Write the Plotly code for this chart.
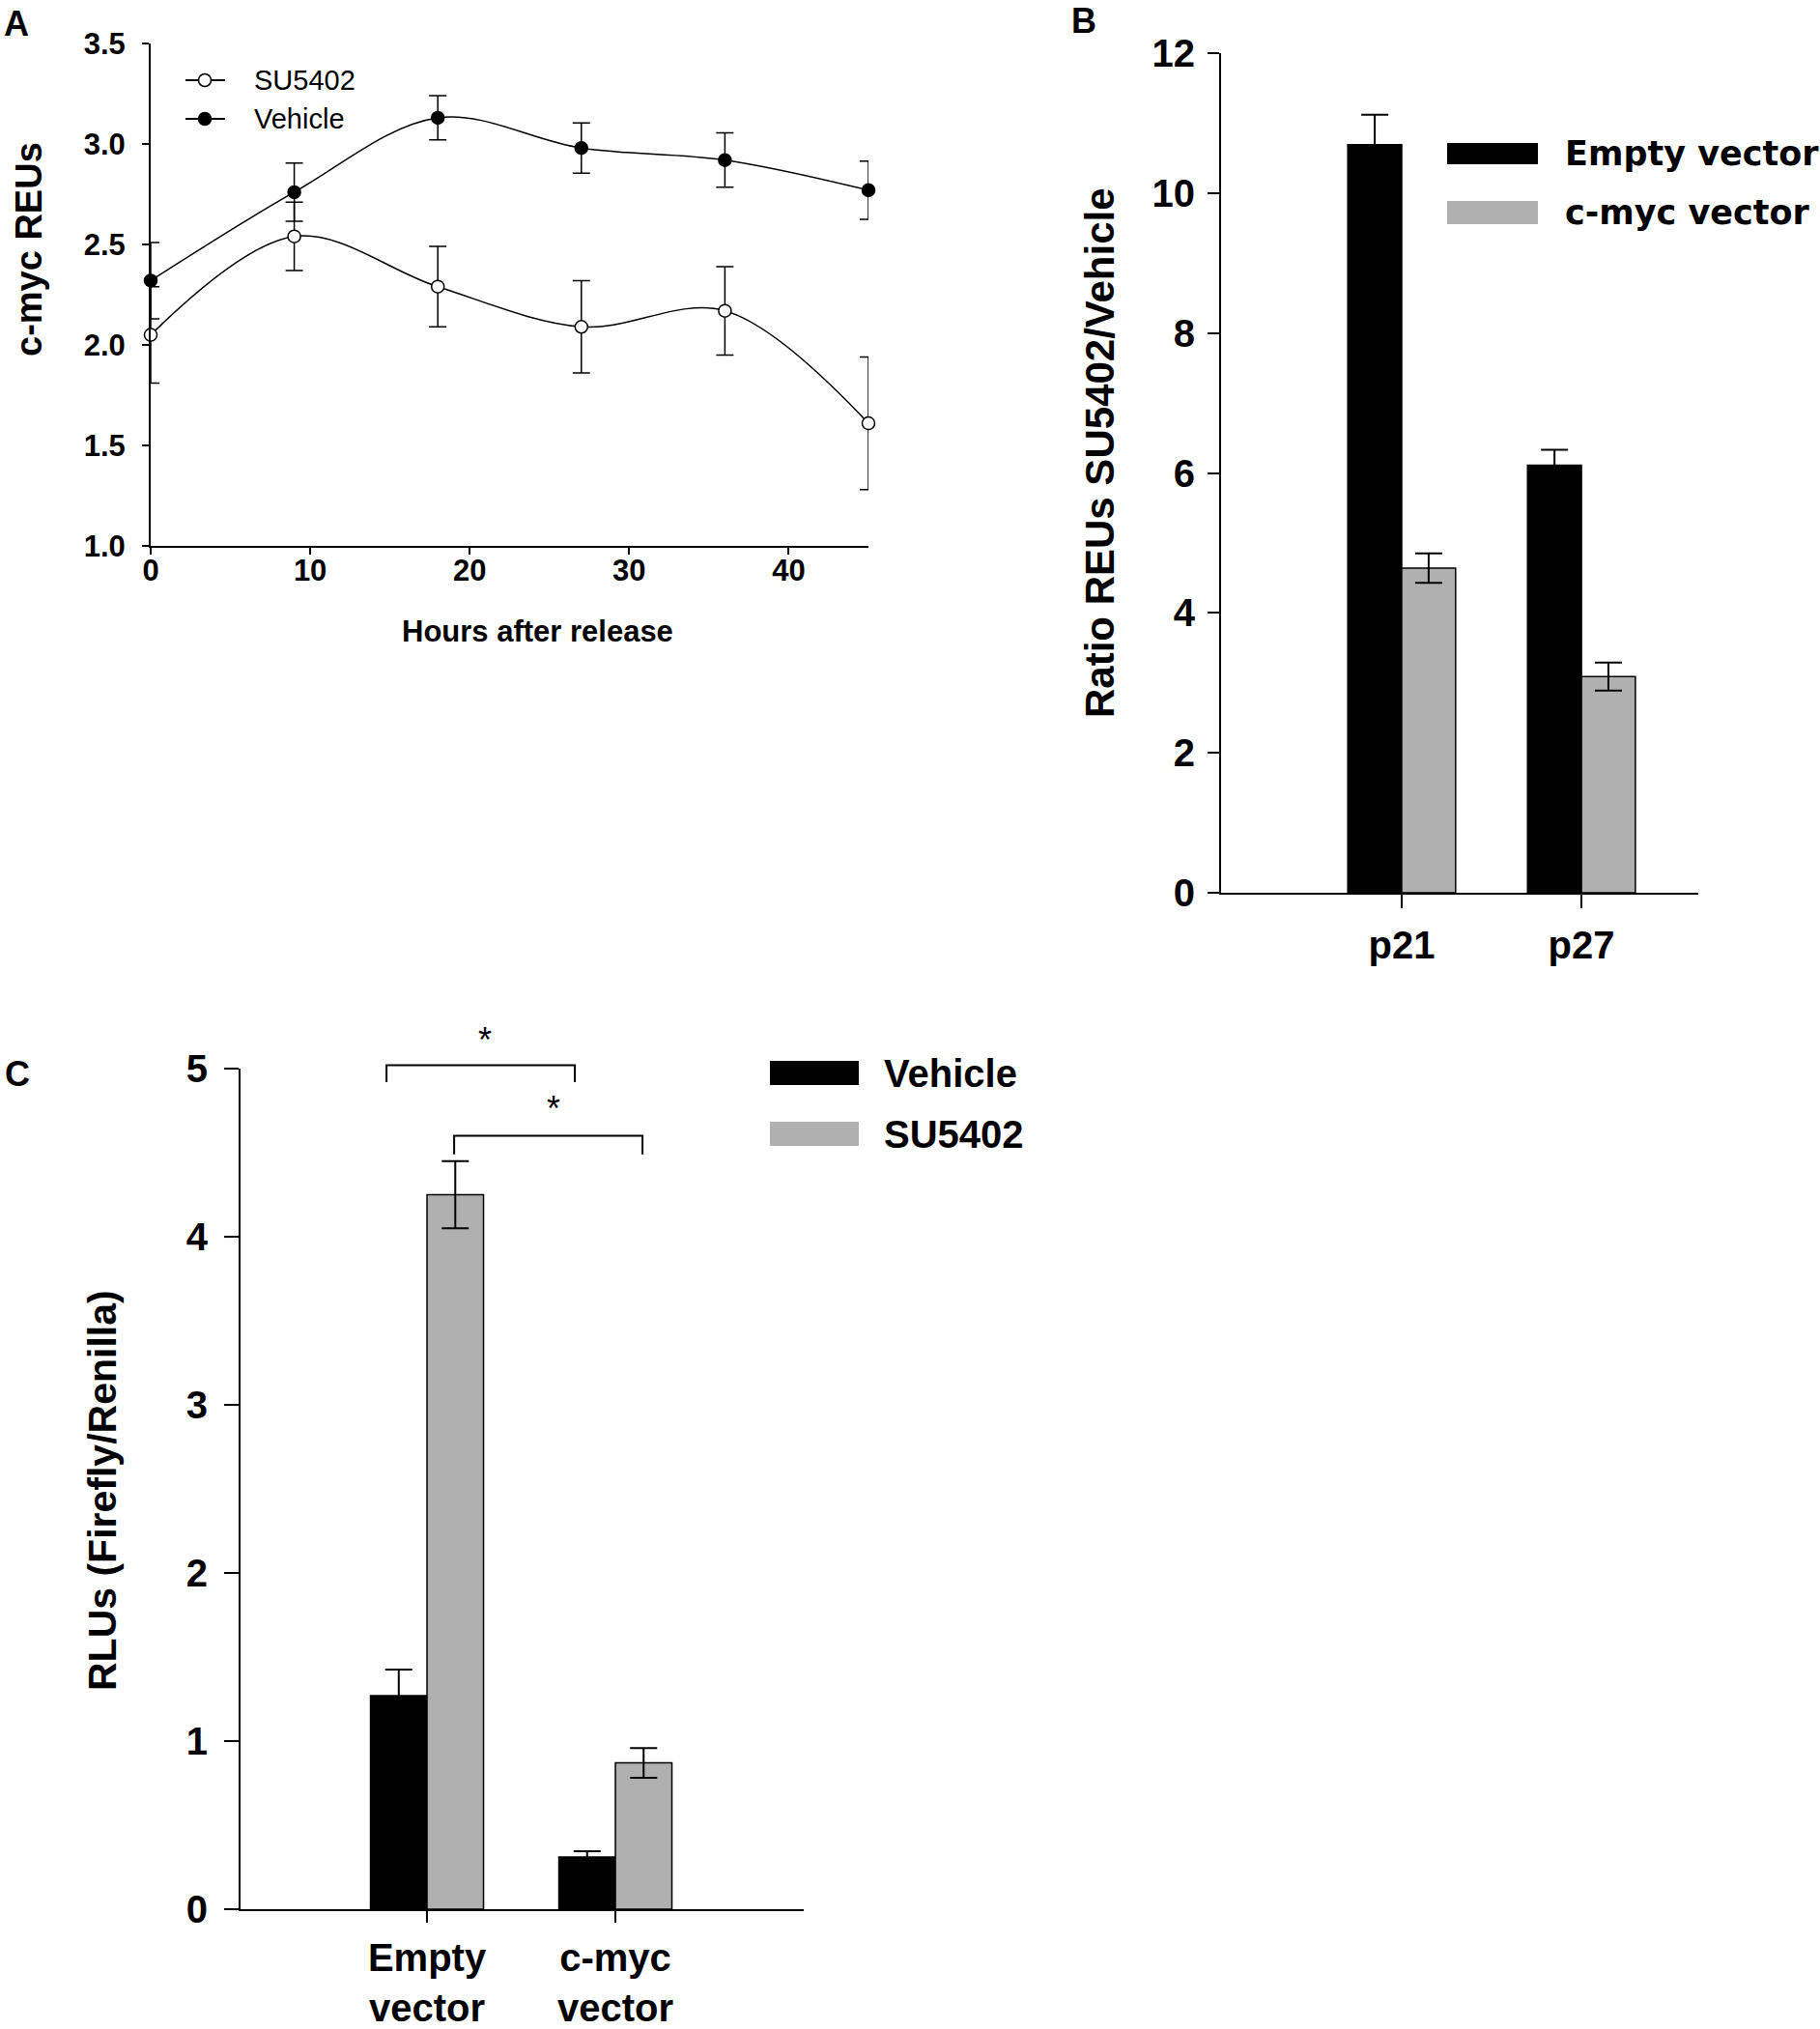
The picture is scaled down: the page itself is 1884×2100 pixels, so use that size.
import plotly.graph_objects as go

# ---------------- data ----------------
hours = [0, 9, 18, 27, 36, 45]
su5402_reu = [2.05, 2.54, 2.29, 2.09, 2.17, 1.61]
su5402_err = [0.24, 0.17, 0.20, 0.23, 0.22, 0.33]
vehicle_reu = [2.32, 2.76, 3.13, 2.98, 2.92, 2.77]
vehicle_err = [0.19, 0.145, 0.11, 0.125, 0.135, 0.145]
a_xticks = [0, 10, 20, 30, 40]
a_yticks = [1.0, 1.5, 2.0, 2.5, 3.0, 3.5]

genes = ["p21", "p27"]
ratio_empty = [10.69, 6.11]
ratio_empty_err = [0.43, 0.22]
ratio_cmyc = [4.64, 3.09]
ratio_cmyc_err = [0.21, 0.20]
b_yticks = [0, 2, 4, 6, 8, 10, 12]

constructs = ["Empty vector", "c-myc vector"]
construct_labels = ["Empty<br>vector", "c-myc<br>vector"]
rlu_vehicle = [1.27, 0.31]
rlu_vehicle_err = [0.155, 0.035]
rlu_su5402 = [4.25, 0.87]
rlu_su5402_err = [0.20, 0.088]
c_yticks = [0, 1, 2, 3, 4, 5]

# ---------------- layout helpers ----------------
W, H = 1884, 2100
FONT = "Liberation Sans, Arial, sans-serif"
GRAY = "#b0b0b0"


def fx(px):
    return px / W


def fy(py):
    return 1 - py / H


A_XR = [0, 45]
A_YR = [1.0, 3.5]
B_XR = [-1.005, 1.65]
B_YR = [0, 12]
C_XR = [-0.99, 2.0]
C_YR = [0, 5]
C_XPX = [249, 832]
C_YPX = [1976, 1106]

fig = go.Figure()

# ---------------- Panel A ----------------
fig.add_trace(go.Scatter(
    x=hours, y=su5402_reu, name="SU5402", mode="lines+markers",
    line=dict(color="black", width=1.5, shape="spline", smoothing=1),
    marker=dict(symbol="circle", size=13, color="white", line=dict(color="black", width=1.5)),
    error_y=dict(type="data", array=su5402_err, color="black", thickness=1.5, width=9),
    cliponaxis=False, showlegend=False, xaxis="x", yaxis="y"))
fig.add_trace(go.Scatter(
    x=hours, y=vehicle_reu, name="Vehicle", mode="lines+markers",
    line=dict(color="black", width=1.5, shape="spline", smoothing=1),
    marker=dict(symbol="circle", size=13, color="black", line=dict(color="black", width=1.5)),
    error_y=dict(type="data", array=vehicle_err, color="black", thickness=1.5, width=9),
    cliponaxis=False, showlegend=False, xaxis="x", yaxis="y"))

# ---------------- Panel B ----------------
fig.add_trace(go.Bar(
    x=genes, y=ratio_empty, name="Empty vector", marker=dict(color="black", line=dict(color="black", width=1.5)),
    error_y=dict(type="data", array=ratio_empty_err, color="black", thickness=2, width=14),
    showlegend=False, xaxis="x2", yaxis="y2"))
fig.add_trace(go.Bar(
    x=genes, y=ratio_cmyc, name="c-myc vector", marker=dict(color=GRAY, line=dict(color="black", width=1.5)),
    error_y=dict(type="data", array=ratio_cmyc_err, color="black", thickness=2, width=14),
    showlegend=False, xaxis="x2", yaxis="y2"))

# ---------------- Panel C ----------------
fig.add_trace(go.Bar(
    x=constructs, y=rlu_vehicle, name="Vehicle", marker=dict(color="black", line=dict(color="black", width=1.5)),
    error_y=dict(type="data", array=rlu_vehicle_err, color="black", thickness=2, width=14),
    showlegend=False, xaxis="x3", yaxis="y3"))
fig.add_trace(go.Bar(
    x=constructs, y=rlu_su5402, name="SU5402", marker=dict(color=GRAY, line=dict(color="black", width=1.5)),
    error_y=dict(type="data", array=rlu_su5402_err, color="black", thickness=2, width=14),
    showlegend=False, xaxis="x3", yaxis="y3"))

axis_common = dict(showline=True, linecolor="black", linewidth=2, ticks="outside",
                   tickcolor="black", tickwidth=2, showgrid=False, zeroline=False,
                   mirror=False, fixedrange=True, automargin=False)

fig.update_layout(
    template="none",
    width=W, height=H, autosize=False,
    margin=dict(l=0, r=0, t=0, b=0, pad=0),
    paper_bgcolor="white", plot_bgcolor="white",
    showlegend=False,
    barmode="group", bargap=0.4, bargroupgap=0,
    font=dict(family=FONT, color="black"),
    xaxis=dict(domain=[fx(156), fx(899)], range=A_XR, anchor="y", tickvals=a_xticks,
               ticklen=7, tickfont=dict(size=31, family=FONT, weight="bold"),
               ticklabelstandoff=-10, **axis_common),
    yaxis=dict(domain=[fy(565), fy(45)], range=A_YR, anchor="x", tickvals=a_yticks,
               tickformat=".1f", ticklen=7, tickfont=dict(size=31, family=FONT, weight="bold"),
               ticklabelstandoff=11, **axis_common),
    xaxis2=dict(domain=[fx(1264), fx(1758)], range=B_XR, anchor="y2", type="category",
                ticklen=14, tickfont=dict(size=40, family=FONT, weight="bold"),
                ticklabelstandoff=4, **axis_common),
    yaxis2=dict(domain=[fy(924), fy(55)], range=B_YR, anchor="x2", tickvals=b_yticks,
                ticklen=12, tickfont=dict(size=40, family=FONT, weight="bold"),
                ticklabelstandoff=5, **axis_common),
    xaxis3=dict(domain=[fx(C_XPX[0]), fx(C_XPX[1])], range=C_XR, anchor="y3", type="category",
                tickvals=constructs, ticktext=construct_labels,
                ticklen=12, tickfont=dict(size=40, family=FONT, weight="bold"),
                ticklabelstandoff=2, **axis_common),
    yaxis3=dict(domain=[fy(C_YPX[0]), fy(C_YPX[1])], range=C_YR, anchor="x3", tickvals=c_yticks,
                ticklen=15, tickfont=dict(size=40, family=FONT, weight="bold"),
                ticklabelstandoff=9, **axis_common),
)

ann = []
shapes = []


def text(x, y, s, size, bold=True, xanchor="center", yanchor="middle", angle=0, family=FONT):
    ann.append(dict(x=x, y=y, xref="paper", yref="paper", text=s, showarrow=False,
                    xanchor=xanchor, yanchor=yanchor, textangle=angle,
                    font=dict(size=size, family=family, color="black",
                              weight="bold" if bold else "normal")))


# panel letters
text(fx(17), fy(25), "A", 36)
text(fx(1122), fy(21), "B", 36)
text(fx(18), fy(1111), "C", 36)

# axis titles
text(fx(30), fy(258), "c-myc REUs", 38, angle=-90)
text(fx(556), fy(653), "Hours after release", 31)
text(fx(1138), fy(469), "Ratio REUs SU5402/Vehicle", 42, angle=-90)
text(fx(106), fy(1543), "RLUs (Firefly/Renilla)", 41, angle=-90)

# legend A
for yy, fill, lab in [(83, "white", "SU5402"), (123, "black", "Vehicle")]:
    shapes.append(dict(type="line", xref="paper", yref="paper", x0=fx(192), x1=fx(233),
                       y0=fy(yy), y1=fy(yy), line=dict(color="black", width=2)))
    shapes.append(dict(type="circle", xref="paper", yref="paper", x0=fx(205.5), x1=fx(218.5),
                       y0=fy(yy + 6.5), y1=fy(yy - 6.5), fillcolor=fill,
                       line=dict(color="black", width=1.5)))
    text(fx(261), fy(yy), lab, 29, bold=False, xanchor="left")

# legend B
for (y0, y1), fill, lab in [((148, 170), "black", "Empty vector"), ((208, 232), GRAY, "c-myc vector")]:
    shapes.append(dict(type="rect", xref="paper", yref="paper", x0=fx(1498), x1=fx(1592),
                       y0=fy(y1), y1=fy(y0), fillcolor=fill, line=dict(width=0)))
    text(fx(1618), fy((y0 + y1) / 2), lab, 35, xanchor="left",
         family="DejaVu Sans, Liberation Sans, Arial")

# legend C
for (y0, y1), fill, lab in [((1098, 1123), "black", "Vehicle"), ((1161, 1186), GRAY, "SU5402")]:
    shapes.append(dict(type="rect", xref="paper", yref="paper", x0=fx(797), x1=fx(889),
                       y0=fy(y1), y1=fy(y0), fillcolor=fill, line=dict(width=0)))
    text(fx(913), fy((y0 + y1) / 2), lab, 40, xanchor="left")


# significance brackets in panel C, mapped through panel C's axis scale
def cx(v):
    return fx(C_XPX[0] + (v - C_XR[0]) / (C_XR[1] - C_XR[0]) * (C_XPX[1] - C_XPX[0]))


def cy(v):
    return fy(C_YPX[0] + (v - C_YR[0]) / (C_YR[1] - C_YR[0]) * (C_YPX[1] - C_YPX[0]))


for xa, xb, ytop, yleg, xs, ys in [(-0.215, 0.785, 5.02, 4.92, 0.307, 5.17),
                                     (0.144, 1.144, 4.60, 4.49, 0.673, 4.76)]:
    path = "M {a},{l} L {a},{t} L {b},{t} L {b},{l}".format(
        a=cx(xa), b=cx(xb), t=cy(ytop), l=cy(yleg))
    shapes.append(dict(type="path", xref="paper", yref="paper", path=path,
                       line=dict(color="black", width=2)))
    text(cx(xs), cy(ys), "*", 36, bold=False)

fig.update_layout(annotations=ann, shapes=shapes)

fig.write_html("out.html", config={"displayModeBar": False},
               post_script="document.body.style.margin='0';")
